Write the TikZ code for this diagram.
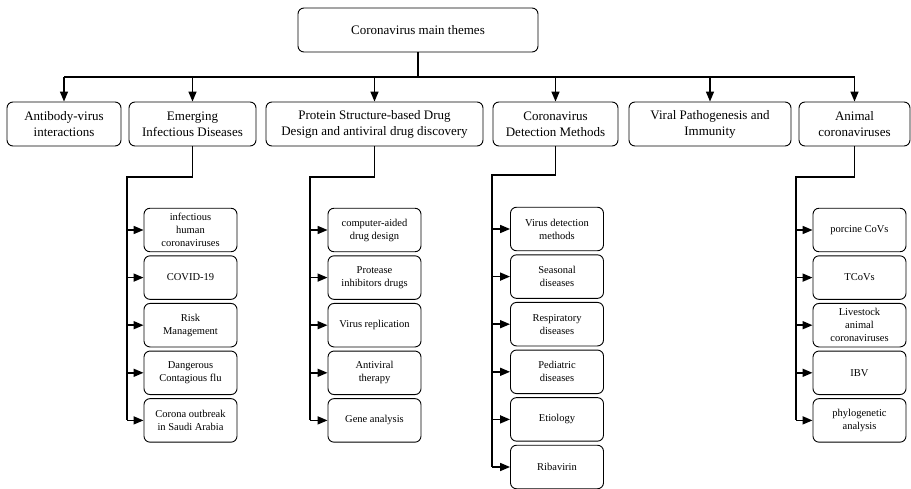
\documentclass[tikz,border=0pt]{standalone}
\usepackage{fontspec}
\setmainfont{Liberation Serif}
\usetikzlibrary{arrows.meta}

\begin{document}
\begin{tikzpicture}[x=1pt,y=-1pt,
    box/.style={draw,rounded corners=6pt,line width=0.9pt,align=center,inner sep=2pt},
    mainbox/.style={box,font=\fontsize{13}{16}\selectfont,minimum height=44pt},
    subbox/.style={box,font=\fontsize{10.5}{13}\selectfont,minimum width=93pt,minimum height=43.5pt},
    link/.style={line width=1.6pt},
    bus/.style={line width=1.4pt},
    tip/.style={-{Triangle[length=10pt,width=8pt]}}
    ]
\useasboundingbox (0,0) rectangle (911,489);
% main theme and its six branches
\node[mainbox,minimum width=240pt] (themes) at (418,30) {Coronavirus main themes};
\foreach \name/\x/\w/\txt in {
    antibody/64/114/{Antibody-virus\\interactions},
    emerging/192.5/127/{Emerging\\Infectious Diseases},
    protein/374.5/217/{Protein Structure-based Drug\\Design and antiviral drug discovery},
    detection/555.5/125/{Coronavirus\\Detection Methods},
    viral/710/162/{Viral Pathogenesis and\\Immunity},
    animal/854.5/111/{Animal\\coronaviruses}}
    \node[mainbox,minimum width=\w pt] (\name) at (\x,124) {\txt};
\coordinate (hub) at (418,77);
\draw[bus] (themes.south) -- (hub);
\draw[bus] (hub -| antibody) -- (hub -| animal);
\foreach \name in {antibody,emerging,protein,detection,viral,animal}
    \draw[bus,tip] (hub -| \name) -- (\name.north);
% sub-themes
\foreach \txt [count=\i] in {{infectious\\human\\coronaviruses},COVID-19,
    {Risk\\Management},{Dangerous\\Contagious flu},{Corona outbreak\\in Saudi Arabia}}
    \node[subbox] (em\i) at (190.5,{230+47.6*(\i-1)}) {\txt};
\foreach \txt [count=\i] in {{computer-aided\\drug design},{Protease\\inhibitors drugs},
    Virus replication,{Antiviral\\therapy},Gene analysis}
    \node[subbox] (pr\i) at (374.5,{230+47.6*(\i-1)}) {\txt};
\foreach \txt [count=\i] in {{Virus detection\\methods},{Seasonal\\diseases},
    {Respiratory\\diseases},{Pediatric\\diseases},Etiology,Ribavirin}
    \node[subbox] (de\i) at (557,{229+47.6*(\i-1)}) {\txt};
\foreach \txt [count=\i] in {porcine CoVs,TCoVs,{Livestock\\animal\\coronaviruses},
    IBV,{phylogenetic\\analysis}}
    \node[subbox] (an\i) at (859.5,{230+47.6*(\i-1)}) {\txt};
% branch lines
\coordinate (emturn) at (127,177);
\coordinate (prturn) at (310,177);
\coordinate (deturn) at (492,175);
\coordinate (anturn) at (796,177);
\foreach \top/\sub/\n in {emerging/em/5,protein/pr/5,detection/de/6,animal/an/5}{
    \draw[link] (\top.south) |- (\sub turn) -- (\sub turn |- \sub\n.west);
    \foreach \i in {1,...,\n}
        \draw[link,tip] (\sub turn |- \sub\i.west) -- (\sub\i.west);
}
\end{tikzpicture}
\end{document}
